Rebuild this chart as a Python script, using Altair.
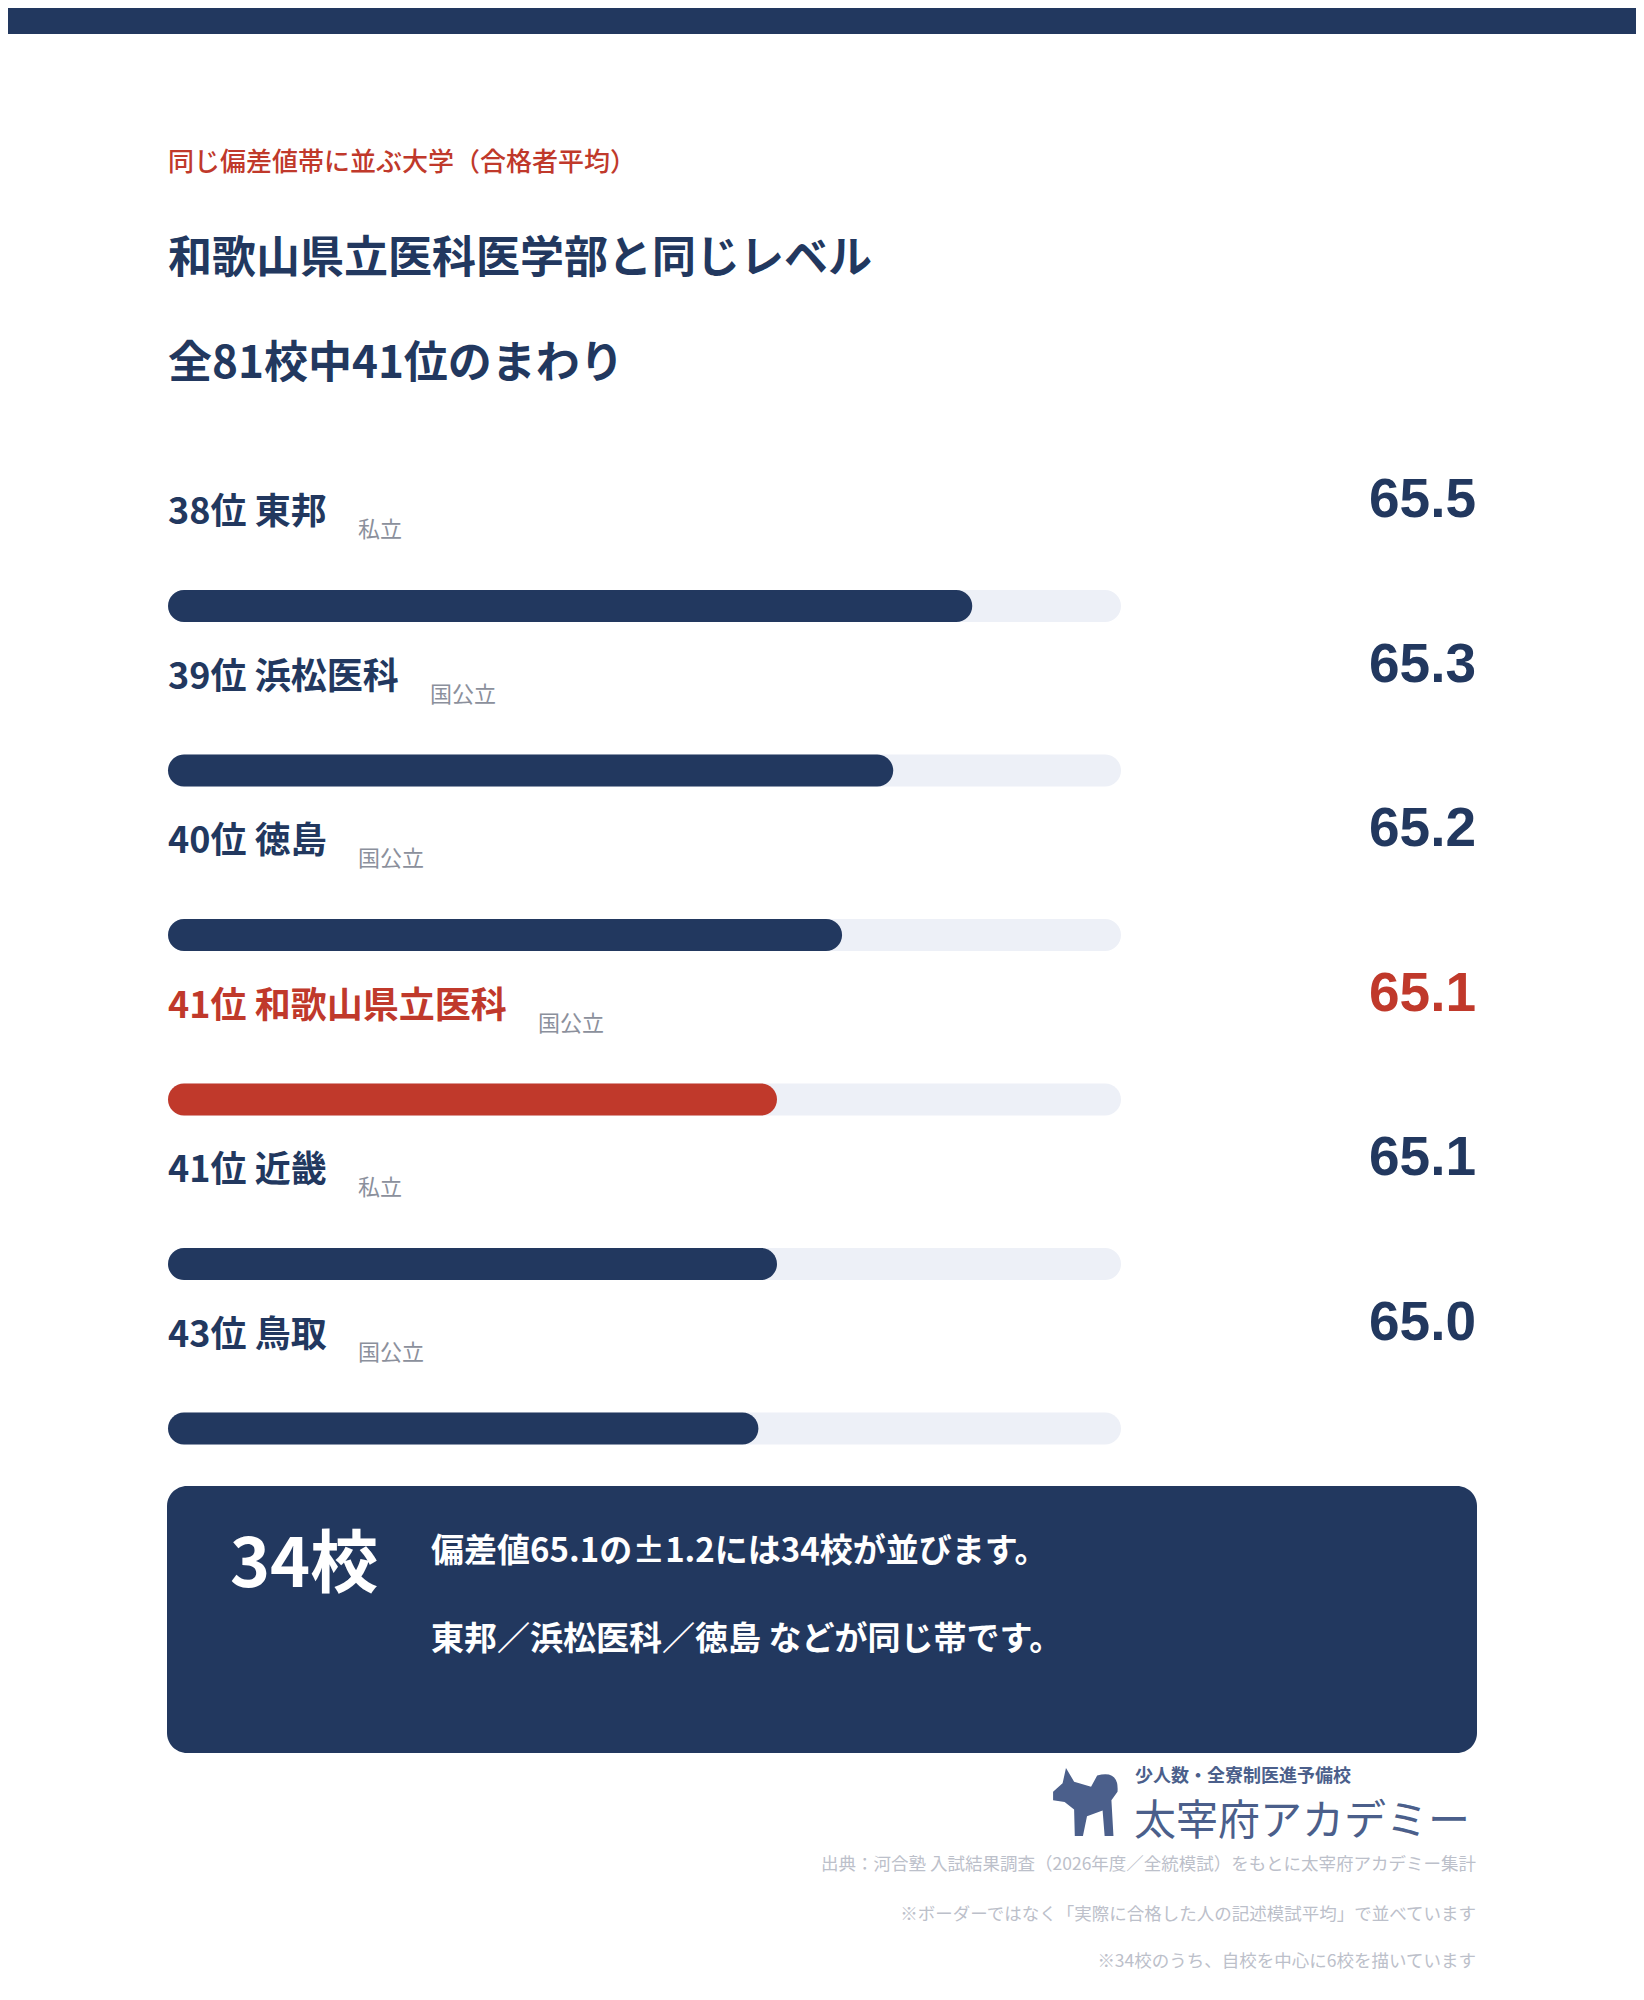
import altair as alt
import pandas as pd

# rows of the ranking, top to bottom
ranks = ["38位", "39位", "40位", "41位", "41位", "43位"]
schools = ["東邦", "浜松医科", "徳島", "和歌山県立医科", "近畿", "鳥取"]
kinds = ["私立", "国公立", "国公立", "国公立", "私立", "国公立"]
# 合格者平均偏差値 (shown rounded to 0.1)
scores = [65.48, 65.31, 65.20, 65.06, 65.06, 65.02]
is_self = [False, False, False, True, False, False]

kicker = "同じ偏差値帯に並ぶ大学（合格者平均）"
headline = ["和歌山県立医科医学部と同じレベル", "全81校中41位のまわり"]
band_count = "34校"
band_text = [
    "偏差値65.1の±1.2には34校が並びます。",
    "東邦／浜松医科／徳島 などが同じ帯です。",
]
logo_sub = "少人数・全寮制医進予備校"
logo_main = "太宰府アカデミー"
notes = [
    "出典：河合塾 入試結果調査（2026年度／全統模試）をもとに太宰府アカデミー集計",
    "※ボーダーではなく「実際に合格した人の記述模試平均」で並べています",
    "※34校のうち、自校を中心に6校を描いています",
]

NAVY = "#22385f"
RED = "#c0392b"
TRACK = "#edf0f7"
GRAY = "#8b909c"
NOTE = "#bcc0ca"
SLATE = "#4b5f8b"
CJK = "Noto Sans CJK JP"
X_MIN, X_MAX = 63.75, 65.8

rows = pd.DataFrame({"rank": ranks, "school": schools, "kind": kinds, "score": scores})
rows["key"] = rows["rank"] + rows["school"]
rows["label"] = rows["rank"] + " " + rows["school"]
rows["group"] = ["self" if s else "other" for s in is_self]
rows["lo"] = X_MIN
rows["hi"] = X_MAX
# tag sits just after the bold label: prefix + one em per kanji
rows["tag_x"] = 278 + 36 * rows["school"].str.len()

x_scale = alt.Scale(domain=[X_MIN, X_MAX], range=[160, 1113], zero=False, nice=False)
y_enc = alt.Y(
    "key:N",
    sort=list(rows["key"]),
    scale=alt.Scale(type="point", range=[598, 1420.5], padding=0),
    axis=None,
)
color_enc = alt.Color(
    "group:N",
    scale=alt.Scale(domain=["other", "self"], range=[NAVY, RED]),
    legend=None,
)

base = alt.Chart(rows)

track = base.mark_bar(size=32, cornerRadius=16, color=TRACK).encode(
    x=alt.X("lo:Q", scale=x_scale, axis=None), x2="hi:Q", y=y_enc
)
fill = base.mark_bar(size=32, cornerRadius=16).encode(
    x=alt.X("lo:Q", scale=x_scale, axis=None), x2="score:Q", y=y_enc, color=color_enc
)
labels = base.mark_text(
    align="left", baseline="middle", dy=-93, fontSize=36, fontWeight="bold", font=CJK
).encode(x=alt.value(160), y=y_enc, text="label:N", color=color_enc)
tags = base.mark_text(
    align="left", baseline="middle", dy=-76, fontSize=22, font=CJK, color=GRAY
).encode(x=alt.X("tag_x:Q", scale=None), y=y_enc, text="kind:N")
values = base.mark_text(
    align="right", baseline="middle", dy=-106, fontSize=55, fontWeight="bold",
    font="Liberation Sans",
).encode(
    x=alt.value(1468), y=y_enc, text=alt.Text("score:Q", format=".1f"), color=color_enc
)


def note(text, x, y, size, color, weight="normal", align="left"):
    return (
        alt.Chart(pd.DataFrame({"t": [text]}))
        .mark_text(
            align=align, baseline="middle", fontSize=size, fontWeight=weight,
            font=CJK, color=color,
        )
        .encode(x=alt.value(x), y=alt.value(y), text="t:N")
    )


one = pd.DataFrame({"a": [0]})
top_band = alt.Chart(one).mark_rect(color=NAVY).encode(
    x=alt.value(0), x2=alt.value(1628), y=alt.value(0), y2=alt.value(26)
)
box = alt.Chart(one).mark_rect(color=NAVY, cornerRadius=20).encode(
    x=alt.value(159), x2=alt.value(1469), y=alt.value(1478), y2=alt.value(1745)
)

DOG = (
    "M -1 -0.3 L -0.72 -0.55 L -0.62 -1 L -0.38 -0.6 L 0.12 -0.45 "
    "L 0.3 -0.78 Q 0.95 -0.95 0.9 -0.3 L 0.72 -0.05 L 0.78 1 L 0.52 1 "
    "L 0.46 0.25 L 0.0 0.42 L -0.12 1 L -0.36 1 L -0.38 0.22 "
    "L -0.66 0.0 L -1 -0.05 Z"
)
dog = alt.Chart(one).mark_point(
    shape=DOG, size=4600, filled=True, color=SLATE, opacity=1, strokeWidth=0
).encode(x=alt.value(1079), y=alt.value(1794))

layers = [
    top_band,
    note(kicker, 160, 155, 26, RED, weight=500),
    note(headline[0], 160, 252, 44, NAVY, weight="bold"),
    note(headline[1], 160, 357, 44, NAVY, weight="bold"),
    track,
    fill,
    labels,
    tags,
    values,
    box,
    note(band_count, 222, 1559, 68, "white", weight="bold"),
    note(band_text[0], 423, 1544, 33, "white", weight="bold"),
    note(band_text[1], 423, 1632, 33, "white", weight="bold"),
    dog,
    note(logo_sub, 1127, 1769, 18, SLATE, weight="bold"),
    note(logo_main, 1126, 1814, 42, SLATE),
    note(notes[0], 1468, 1857, 17.5, NOTE, align="right"),
    note(notes[1], 1468, 1907, 17.5, NOTE, align="right"),
    note(notes[2], 1468, 1954, 17.5, NOTE, align="right"),
]

chart = (
    alt.layer(*layers)
    .properties(
        width=1628,
        height=1975,
        autosize=alt.AutoSizeParams(type="none"),
        padding=0,
        background="white",
    )
    .configure_view(stroke=None)
)

chart.save("out.html", embed_options={"renderer": "svg", "actions": False})
